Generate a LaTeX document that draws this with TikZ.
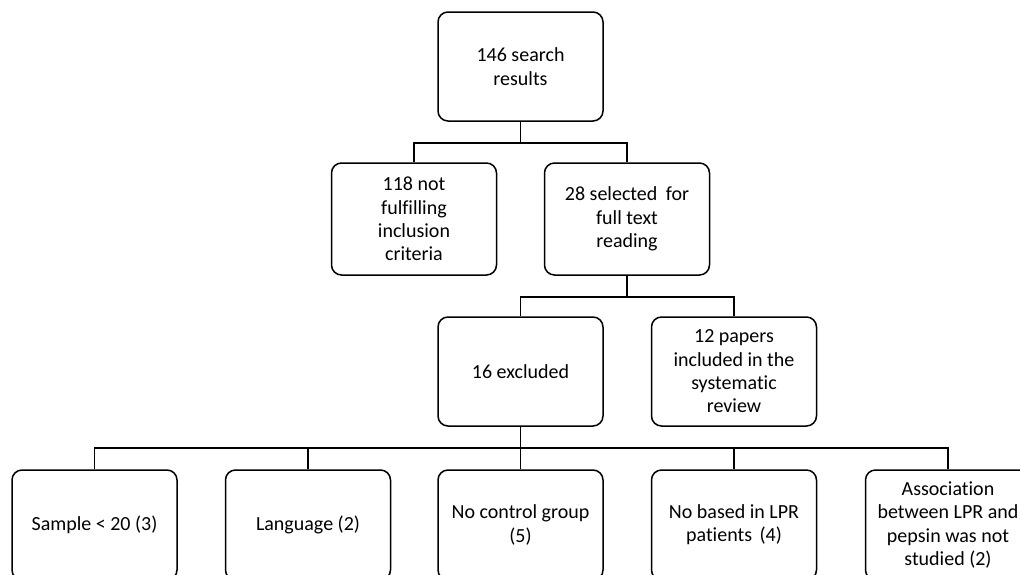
\documentclass[tikz,border=0pt]{standalone}
\usepackage{fontspec}
\setmainfont{Carlito}[Ligatures=CommonOff]
\begin{document}
\begin{tikzpicture}[x=1pt,y=-1pt,
  box/.style={draw, rounded corners=10pt, line width=1.5pt, minimum width=165pt, minimum height=109pt, align=center, inner sep=2pt, font=\fontsize{20}{23.3}\selectfont},
  conn/.style={line width=1.5pt}]
\useasboundingbox (0,0) rectangle (1020,574);
\clip (0,0) rectangle (1020,574);
\node[box] (top) at (520.5,66.5) {146 search\\results};
\node[box, minimum height=112pt] (n118) at (414,219) {118 not\\fulfilling\\inclusion\\criteria};
\node[box, minimum height=112pt] (n28) at (627,219) {28 selected\hspace{4pt} for\\full text\\reading};
\node[box] (n16) at (520.5,371.5) {16 excluded};
\node[box] (n12) at (734,371.5) {12 papers\\included in the\\systematic\\review};
\node[box, minimum height=110pt] (b1) at (94.5,525) {Sample < 20 (3)};
\node[box, minimum height=110pt] (b2) at (308,525) {Language (2)};
\node[box, minimum height=110pt] (b3) at (520.5,525) {No control group\\(5)};
\node[box, minimum height=110pt] (b4) at (734,525) {No based in LPR\\patients\hspace{3pt} (4)};
\node[box, minimum height=110pt] (b5) at (948,525) {Association\\between LPR and\\pepsin was not\\studied (2)};
\coordinate (j1) at (520.5,143);
\coordinate (j2) at (627,297);
\coordinate (j3) at (520.5,448);
\draw[conn] (top.south) -- (j1);
\draw[conn] (n118.north) |- (j1) -| (n28.north);
\draw[conn] (n28.south) -- (j2);
\draw[conn] (n16.north) |- (j2) -| (n12.north);
\draw[conn] (n16.south) -- (j3);
\draw[conn] (b1.north) |- (j3) -| (b5.north);
\draw[conn] (b2.north) -- (b2.north |- j3);
\draw[conn] (b3.north) -- (b3.north |- j3);
\draw[conn] (b4.north) -- (b4.north |- j3);
\end{tikzpicture}
\end{document}
